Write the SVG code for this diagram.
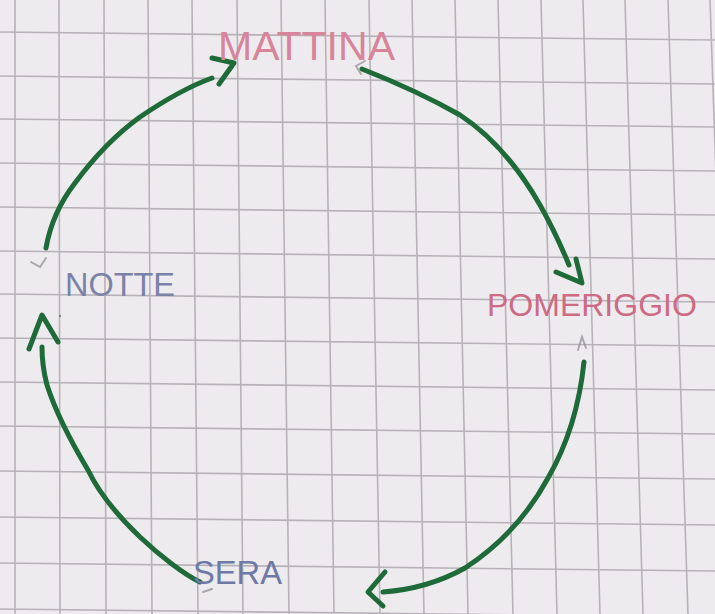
<svg xmlns="http://www.w3.org/2000/svg" width="715" height="614" viewBox="0 0 715 614">
<style>
.grid{stroke:#b7b2b8;stroke-width:1.6;fill:none}
.arrow{stroke:#1e6a38;stroke-width:5;fill:none;stroke-linecap:round;stroke-linejoin:round}
.lbl{font-family:"Liberation Sans","DejaVu Sans",sans-serif;font-weight:normal}
.pencil{stroke:#8e8b90;stroke-width:2;fill:none;stroke-linecap:round;opacity:0.7}
</style>
<rect width="715" height="614" fill="#eeebef"/>
<g id="grid" class="grid">
<path d="M0 32 L715 40 M0 76 L715 84 M0 119 L715 127 M0 163 L715 171 M0 207 L715 215 M0 251 L715 259 M0 294 L715 302 M0 338 L715 346 M0 382 L715 390 M0 426 L715 434 M0 471 L715 479 M0 517 L715 525 M0 563 L715 571 M0 609 L715 617"/>
<path d="M15 0 L15 614 M59 0 L60 614 M104 0 L106 614 M148 0 L152 614 M192 0 L198 614 M237 0 L243 614 M281 0 L289 614 M325 0 L334 614 M369 0 L380 614 M412 0 L424 614 M455 0 L468 614 M498 0 L513 614 M541 0 L557 614 M583 0 L600 614 M625 0 L643 614 M668 0 L688 614 M710 0 L731 614"/>
</g>
<g id="connectors">
<g id="notte-mattina">
<path class="arrow" d="M46 248 C50 225 58 205 75 183 C95 156 115 135 140 117 C165 100 190 86 212 78"/>
<path class="arrow" d="M212 58 L234 63 L219 84"/>
</g>
<g id="mattina-pomeriggio">
<path class="arrow" d="M362 69 C395 82 430 98 460 115 C495 138 520 170 540 205 C553 228 562 248 569 265"/>
<path class="arrow" d="M556 272 L582 283 L576 259"/>
</g>
<g id="pomeriggio-sera">
<path class="arrow" d="M584 362 C580 400 570 440 548 478 C528 515 500 545 465 568 C440 582 410 590 383 592"/>
<path class="arrow" d="M385 572 L368 592 L383 606"/>
</g>
<g id="sera-notte">
<path class="arrow" d="M200 582 C185 575 160 556 140 537 C118 516 100 495 88 470 C70 440 55 410 47 385 C43 370 42 358 42 347"/>
<path class="arrow" d="M29 349 L42 315 L58 342"/>
</g>
</g>
<g id="pencil-marks" class="pencil">
<path d="M31 262 L40 267 L46 258"/>
<path d="M365 61 L356 66 L361 74"/>
<path d="M578 350 L582 337 L586 348"/>
<path d="M203 592 L212 589"/>
<circle cx="60" cy="316" r="1.2" fill="#6a6a6a" stroke="none"/>
</g>
<g id="mattina">
<text class="lbl" x="218" y="60" font-size="40" fill="#d8849a" textLength="177" lengthAdjust="spacingAndGlyphs">MATTINA</text>
</g>
<g id="pomeriggio">
<text class="lbl" x="487" y="316" font-size="32" fill="#cd6a84">POMERIGGIO</text>
</g>
<g id="notte">
<text class="lbl" x="65" y="296" font-size="33" fill="#7b82a8" textLength="110" lengthAdjust="spacingAndGlyphs">NOTTE</text>
</g>
<g id="sera">
<text class="lbl" x="193" y="584" font-size="34" fill="#6f79a6" textLength="89" lengthAdjust="spacingAndGlyphs">SERA</text>
</g>
</svg>
